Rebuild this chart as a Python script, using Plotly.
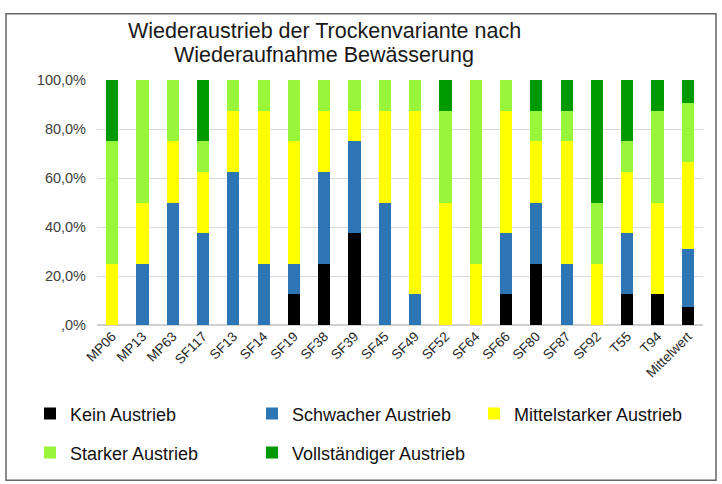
import plotly.graph_objects as go

# Categories (plant lines) and share of shoots per regrowth class, in percent
categories = ["MP06", "MP13", "MP63", "SF117", "SF13", "SF14", "SF19", "SF38", "SF39",
              "SF45", "SF49", "SF52", "SF64", "SF66", "SF80", "SF87", "SF92", "T55",
              "T94", "Mittelwert"]

kein = [0, 0, 0, 0, 0, 0, 12.5, 25, 37.5, 0, 0, 0, 0, 12.5, 25, 0, 0, 12.5, 12.5, 7.2]
schwach = [0, 25, 50, 37.5, 62.5, 25, 12.5, 37.5, 37.5, 50, 12.5, 0, 0, 25, 25, 25, 0, 25, 0, 23.7]
mittel = [25, 25, 25, 25, 25, 62.5, 50, 25, 12.5, 37.5, 75, 50, 25, 50, 25, 50, 25, 25, 37.5, 35.5]
stark = [50, 50, 25, 12.5, 12.5, 12.5, 25, 12.5, 12.5, 12.5, 12.5, 37.5, 75, 12.5, 12.5, 12.5, 25, 12.5, 37.5, 24.4]
voll = [25, 0, 0, 25, 0, 0, 0, 0, 0, 0, 0, 12.5, 0, 0, 12.5, 12.5, 50, 25, 12.5, 9.2]

y_tickvals = [0, 20, 40, 60, 80, 100]
y_ticktext = [",0%", "20,0%", "40,0%", "60,0%", "80,0%", "100,0%"]

title_lines = ["Wiederaustrieb der Trockenvariante nach", "Wiederaufnahme Bewässerung"]

series = [
    ("Kein Austrieb", kein, "#000000", "legend"),
    ("Schwacher Austrieb", schwach, "#2E75B6", "legend"),
    ("Mittelstarker Austrieb", mittel, "#FFFF00", "legend"),
    ("Starker Austrieb", stark, "#99F53A", "legend2"),
    ("Vollständiger Austrieb", voll, "#009A00", "legend2"),
]

fig = go.Figure()
for name, vals, color, leg in series:
    fig.add_trace(go.Bar(
        x=categories, y=vals, name=name, legend=leg,
        marker=dict(color=color, line=dict(width=0)),
    ))

W, H = 722, 484
ml, mr, mt, mb = 97, 19, 80, 153
pw, ph = W - ml - mr, H - mt - mb

font_family = "Liberation Sans, Arial, sans-serif"


def px_x(x):
    """Horizontal pixel position -> paper coordinate."""
    return (x - ml) / pw


def px_y(y):
    """Vertical pixel position (from top) -> paper coordinate."""
    return (H - mb - y) / ph


legend_style = dict(
    orientation="h", traceorder="normal",
    xanchor="left", yanchor="middle",
    entrywidth=177, entrywidthmode="pixels",
    font=dict(size=18, family=font_family, color="#111111"),
    itemwidth=30, bgcolor="rgba(0,0,0,0)",
)

fig.update_layout(
    width=W, height=H,
    margin=dict(l=ml, r=mr, t=mt, b=mb),
    barmode="stack", bargap=0.6,
    paper_bgcolor="white", plot_bgcolor="white",
    font=dict(family=font_family, color="#222222"),
    xaxis=dict(
        tickangle=-45, tickfont=dict(size=13.5, color="#262626"), showgrid=False,
        showline=False, ticks="", fixedrange=True,
    ),
    yaxis=dict(
        range=[0, 100], tickvals=y_tickvals, ticktext=y_ticktext,
        tickfont=dict(size=14.5, color="#404040"), ticklabelstandoff=10,
        showgrid=True, gridcolor="#D9D9D9", gridwidth=1,
        zeroline=True, zerolinecolor="#D0D0D0", ticks="", showline=False,
        fixedrange=True,
    ),
    legend=dict(legend_style, x=px_x(30), y=px_y(422)),
    legend2=dict(legend_style, x=px_x(30), y=px_y(462)),
    showlegend=True,
)

# Two-line chart title, centred
for line, yc in zip(title_lines, [30, 54]):
    fig.add_annotation(
        text=line, xref="paper", yref="paper",
        x=px_x(324), y=px_y(yc), xanchor="center", yanchor="middle",
        showarrow=False, font=dict(size=21.5, family=font_family, color="#1a1a1a"),
    )

# Outer frame around the chart area
fig.add_shape(
    type="rect", xref="paper", yref="paper",
    x0=px_x(6), x1=px_x(716), y0=px_y(490), y1=px_y(12),
    line=dict(color="#666666", width=1.5), fillcolor="rgba(0,0,0,0)",
    layer="below",
)

fig.write_html("out.html")
